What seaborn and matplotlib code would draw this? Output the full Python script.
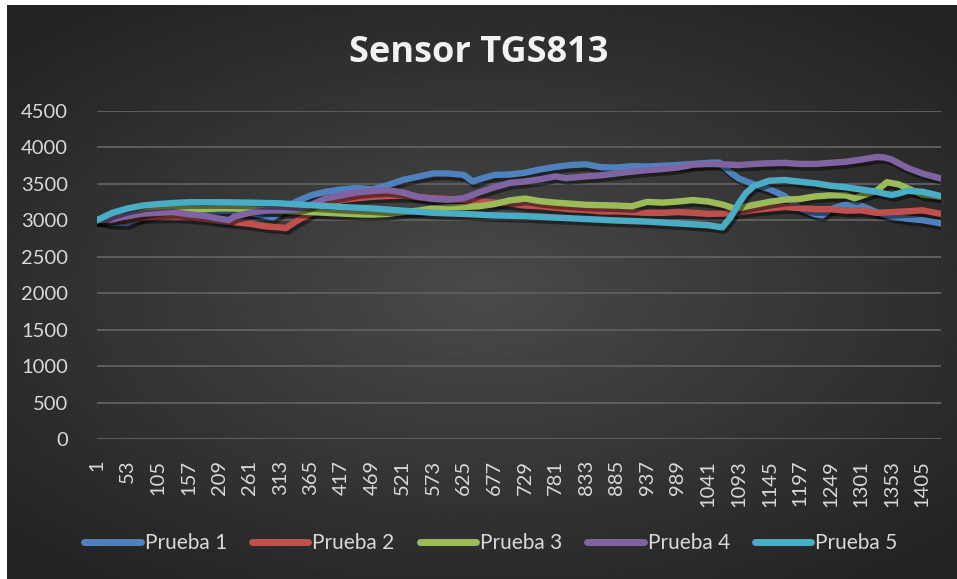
import numpy as np
import pandas as pd
import seaborn as sns
import matplotlib.pyplot as plt
import matplotlib.patheffects as pe
from matplotlib.lines import Line2D

# values (x = sample number, y = sensor reading)
x_p1 = [1, 27, 53, 79, 105, 131, 157, 183, 209, 235, 261, 287, 300, 313, 339, 365, 391, 417, 443,
        469, 495, 521, 547, 573, 599, 625, 640, 651, 677, 703, 729, 755, 781, 807, 833, 859, 885,
        911, 937, 963, 989, 1015, 1041, 1060, 1067, 1080, 1093, 1119, 1145, 1171, 1197, 1223, 1235,
        1249, 1275, 1301, 1327, 1353, 1379, 1405, 1437]
y_p1 = [3000, 2960, 2960, 3050, 3090, 3100, 3120, 3140, 3120, 3130, 3100, 3060, 3040, 3100, 3250,
        3340, 3390, 3420, 3440, 3420, 3480, 3550, 3595, 3640, 3640, 3620, 3530, 3560, 3620, 3625,
        3650, 3695, 3730, 3755, 3765, 3725, 3720, 3740, 3735, 3745, 3755, 3770, 3785, 3790, 3735,
        3645, 3570, 3490, 3425, 3330, 3160, 3080, 3065, 3150, 3215, 3200, 3110, 3050, 3020, 3000, 2955]

x_p2 = [1, 27, 53, 79, 105, 131, 157, 183, 209, 235, 261, 287, 313, 322, 339, 365, 391, 417, 443,
        469, 495, 521, 547, 573, 599, 625, 651, 677, 703, 729, 755, 781, 807, 833, 859, 885, 911,
        937, 963, 989, 1015, 1041, 1067, 1093, 1119, 1145, 1171, 1197, 1223, 1249, 1275, 1301, 1327,
        1353, 1379, 1405, 1437]
y_p2 = [3000, 2990, 3010, 3040, 3050, 3050, 3040, 3020, 2990, 2970, 2950, 2915, 2900, 2890, 2980,
        3095, 3205, 3275, 3300, 3320, 3330, 3335, 3315, 3300, 3290, 3275, 3260, 3240, 3230, 3200,
        3190, 3170, 3150, 3140, 3120, 3120, 3110, 3100, 3100, 3110, 3100, 3085, 3090, 3110, 3140,
        3160, 3180, 3165, 3150, 3150, 3130, 3135, 3100, 3110, 3120, 3135, 3085]

x_p3 = [1, 27, 53, 79, 105, 131, 157, 183, 209, 235, 261, 287, 313, 339, 365, 391, 417, 443, 469,
        495, 521, 547, 573, 599, 625, 651, 677, 703, 729, 755, 781, 807, 833, 859, 885, 911, 937,
        963, 989, 1015, 1041, 1067, 1085, 1093, 1119, 1145, 1171, 1197, 1223, 1249, 1275, 1290,
        1301, 1327, 1345, 1365, 1379, 1405, 1437]
y_p3 = [3000, 3030, 3050, 3100, 3140, 3160, 3160, 3150, 3160, 3160, 3150, 3140, 3130, 3120, 3110,
        3100, 3090, 3080, 3075, 3085, 3110, 3130, 3160, 3175, 3180, 3190, 3220, 3270, 3295, 3260,
        3240, 3225, 3210, 3205, 3200, 3190, 3250, 3240, 3255, 3275, 3255, 3210, 3160, 3165, 3210,
        3250, 3280, 3290, 3325, 3340, 3340, 3300, 3330, 3400, 3520, 3490, 3440, 3350, 3320]

x_p4 = [1, 27, 53, 79, 105, 131, 157, 183, 209, 225, 235, 261, 287, 313, 339, 365, 391, 417, 443,
        469, 495, 521, 547, 573, 599, 625, 651, 677, 703, 729, 755, 781, 799, 833, 859, 885, 911,
        937, 963, 989, 1015, 1041, 1067, 1093, 1119, 1145, 1171, 1197, 1223, 1249, 1275, 1301, 1327,
        1340, 1353, 1379, 1405, 1437]
y_p4 = [3000, 3010, 3060, 3090, 3100, 3110, 3080, 3060, 3020, 3000, 3050, 3100, 3130, 3140, 3150,
        3210, 3300, 3340, 3380, 3400, 3410, 3380, 3320, 3290, 3280, 3300, 3380, 3450, 3510, 3530,
        3560, 3600, 3575, 3600, 3615, 3640, 3665, 3685, 3700, 3720, 3760, 3770, 3765, 3755, 3770,
        3780, 3785, 3770, 3770, 3785, 3800, 3830, 3865, 3860, 3830, 3720, 3640, 3570]

x_p5 = [1, 27, 53, 79, 105, 131, 157, 209, 261, 313, 365, 417, 469, 521, 573, 625, 677, 729, 781,
        833, 885, 937, 989, 1041, 1065, 1080, 1093, 1105, 1119, 1145, 1171, 1197, 1223, 1249, 1275,
        1301, 1327, 1340, 1353, 1365, 1379, 1405, 1437]
y_p5 = [3000, 3100, 3160, 3200, 3220, 3235, 3245, 3245, 3240, 3230, 3205, 3180, 3160, 3130, 3100,
        3085, 3065, 3055, 3035, 3015, 2995, 2980, 2955, 2930, 2900, 3050, 3230, 3370, 3470, 3540,
        3550, 3527, 3505, 3472, 3450, 3420, 3390, 3365, 3345, 3365, 3400, 3390, 3330]

series = ["Prueba 1", "Prueba 2", "Prueba 3", "Prueba 4", "Prueba 5"]
colors = ["#4F81BD", "#C0504D", "#9BBB59", "#8064A2", "#4BACC6"]
y_ticks = [0, 500, 1000, 1500, 2000, 2500, 3000, 3500, 4000, 4500]
x_ticks = [1, 53, 105, 157, 209, 261, 313, 365, 417, 469, 521, 573, 625, 677, 729, 781, 833,
           885, 937, 989, 1041, 1093, 1145, 1197, 1249, 1301, 1353, 1405]

frames = []
for name, xs, ys in zip(series, [x_p1, x_p2, x_p3, x_p4, x_p5], [y_p1, y_p2, y_p3, y_p4, y_p5]):
    frames.append(pd.DataFrame({"muestra": xs, "valor": ys, "serie": name}))
df = pd.concat(frames, ignore_index=True)

sns.set_style("dark")
plt.rcParams['font.family'] = ['Lato', 'DejaVu Sans']
txt = "#D9D9D9"

fig = plt.figure(figsize=(9.57, 5.79), dpi=100)
fig.patch.set_facecolor("white")

# dark radial gradient background (Excel style)
bg = fig.add_axes([7 / 957, 0, 1 - 7 / 957, 1 - 5 / 579])
gx, gy = np.meshgrid(np.linspace(-1, 1, 400), np.linspace(-1, 1, 250))
r = np.sqrt((gx * 1.0) ** 2 + (gy * 1.1) ** 2)
bg.imshow(0.29 - 0.15 * np.clip(r / 1.35, 0, 1), cmap="gray", vmin=0, vmax=1, aspect="auto",
          extent=(0, 1, 0, 1))
bg.set_axis_off()

ax = fig.add_axes([97 / 957, 1 - 439 / 579, (941 - 97) / 957, (439 - 110.7) / 579])
ax.set_facecolor("none")

shadow = [pe.SimpleLineShadow(offset=(1.5, -2.5), shadow_color="black", alpha=0.45), pe.Normal()]
sns.lineplot(data=df, x="muestra", y="valor", hue="serie", palette=colors, estimator=None,
             linewidth=4.6, ax=ax, legend=False, sort=False,
             solid_joinstyle="round", solid_capstyle="round", path_effects=shadow)

ax.set_xlim(1, 1437)
ax.set_ylim(0, 4500)
ax.set_yticks(y_ticks)
ax.set_xticks(x_ticks)
ax.set_xticklabels([str(t) for t in x_ticks], rotation=90, va="top", ha="center")
ax.tick_params(axis="both", colors=txt, labelsize=14.5, length=0)
ax.tick_params(axis="y", pad=21)
ax.tick_params(axis="x", pad=15)
ax.grid(axis="y", color="#5E5E5E", linewidth=1.4)
ax.grid(axis="x", visible=False)
ax.set_xlabel("")
ax.set_ylabel("")
for s in ax.spines.values():
    s.set_visible(False)

fig.text(0.5, 1 - 53 / 579, "Sensor TGS813", ha="center", va="center", color="#F2F2F2",
         fontsize=26, fontweight="bold", family=["Open Sans", "DejaVu Sans"])

handles = [Line2D([0], [0], color=c, linewidth=5, solid_capstyle="round") for c in colors]
fig.legend(handles, series, loc="center", bbox_to_anchor=(0.513, 1 - 543 / 579), ncol=5,
           frameon=False, fontsize=15, labelcolor=txt, handlelength=2.7, handletextpad=0.2,
           columnspacing=1.2)

plt.savefig("out.png", dpi=100, facecolor=fig.get_facecolor())
